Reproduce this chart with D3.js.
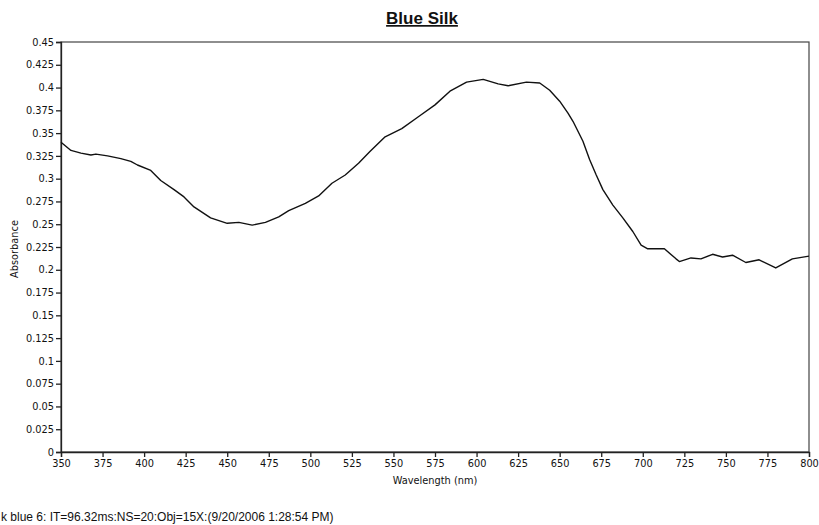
<!DOCTYPE html>
<html>
<head>
<meta charset="utf-8">
<script src="https://cdn.jsdelivr.net/npm/d3@7/dist/d3.min.js"></script>
<style>
  html, body { margin: 0; padding: 0; background: #fff; }
  svg { display: block; }
  .tick text { font-family: "DejaVu Sans", Verdana, sans-serif; font-size: 9.8px; fill: #111; }
</style>
</head>
<body>
<svg id="chart" width="819" height="525"></svg>
<script>
// Absorbance spectrum of the blue silk sample
const wavelength = [350, 356, 362, 368, 371, 378, 386, 392, 396, 404, 410, 418, 424, 430, 440, 450, 457, 465, 473, 481, 487, 497, 505, 513, 521, 529, 536, 545, 555, 565, 575, 584, 594, 604, 613, 619, 630, 638, 644, 650, 655, 658, 664, 668, 672, 676, 682, 688, 694, 699, 703, 713, 720, 722, 729, 735, 742, 748, 754, 762, 770, 780, 790, 800];
const absorbance = [0.340, 0.331, 0.328, 0.326, 0.327, 0.325, 0.322, 0.319, 0.315, 0.309, 0.298, 0.288, 0.280, 0.269, 0.257, 0.251, 0.252, 0.249, 0.252, 0.258, 0.265, 0.273, 0.281, 0.295, 0.304, 0.317, 0.330, 0.346, 0.355, 0.368, 0.381, 0.396, 0.406, 0.409, 0.404, 0.402, 0.406, 0.405, 0.397, 0.385, 0.372, 0.363, 0.341, 0.321, 0.304, 0.288, 0.271, 0.257, 0.242, 0.227, 0.223, 0.223, 0.212, 0.209, 0.213, 0.212, 0.217, 0.214, 0.216, 0.208, 0.211, 0.202, 0.212, 0.215];

const xTicks = [350, 375, 400, 425, 450, 475, 500, 525, 550, 575, 600, 625, 650, 675, 700, 725, 750, 775, 800];
const yTicks = [0, 0.025, 0.05, 0.075, 0.1, 0.125, 0.15, 0.175, 0.2, 0.225, 0.25, 0.275, 0.3, 0.325, 0.35, 0.375, 0.4, 0.425, 0.45];
const yTickLabels = ["0", "0.025", "0.05", "0.075", "0.1", "0.125", "0.15", "0.175", "0.2", "0.225", "0.25", "0.275", "0.3", "0.325", "0.35", "0.375", "0.4", "0.425", "0.45"];

const titleText = "Blue Silk";
const xLabel = "Wavelength (nm)";
const yLabel = "Absorbance";
const footerText = "k blue 6: IT=96.32ms:NS=20:Obj=15X:(9/20/2006 1:28:54 PM)";

const margin = { left: 61, right: 10, top: 42, bottom: 73 };
const W = 819, H = 525;
const svg = d3.select("#chart");

const x = d3.scaleLinear().domain([350, 800]).range([margin.left, W - margin.right]);
const y = d3.scaleLinear().domain([0, 0.45]).range([H - margin.bottom, margin.top]);

// plot frame
svg.append("rect")
  .attr("x", x(350)).attr("y", y(0.45))
  .attr("width", x(800) - x(350)).attr("height", y(0) - y(0.45))
  .attr("fill", "none").attr("stroke", "#444").attr("stroke-width", 1.2);

// axes
const xAxis = svg.append("g")
  .attr("transform", `translate(0,${y(0)})`)
  .call(d3.axisBottom(x).tickValues(xTicks).tickSize(5).tickPadding(3).tickFormat(d3.format("d")));
const yAxis = svg.append("g")
  .attr("transform", `translate(${x(350)},0)`)
  .call(d3.axisLeft(y).tickValues(yTicks).tickSize(5).tickPadding(2)
    .tickFormat((d, i) => yTickLabels[i]));
[xAxis, yAxis].forEach(g => {
  g.select(".domain").attr("stroke", "#222").attr("stroke-width", 1.3);
  g.selectAll(".tick line").attr("stroke", "#222").attr("stroke-width", 1.3);
});

// spectrum trace
const line = d3.line().x((d, i) => x(wavelength[i])).y(d => y(d));
svg.append("path")
  .datum(absorbance)
  .attr("d", line)
  .attr("fill", "none")
  .attr("stroke", "#111")
  .attr("stroke-width", 1.4)
  .attr("stroke-linejoin", "round");

// title with underline
svg.append("text")
  .attr("x", 422).attr("y", 24)
  .attr("text-anchor", "middle")
  .attr("font-family", "Liberation Sans, Arial, sans-serif")
  .attr("font-weight", "bold")
  .attr("font-size", 17)
  .attr("text-decoration", "underline")
  .attr("fill", "#111")
  .text(titleText);

// axis labels
svg.append("text")
  .attr("x", (x(350) + x(800)) / 2).attr("y", 484)
  .attr("text-anchor", "middle")
  .attr("font-family", "DejaVu Sans, Verdana, sans-serif")
  .attr("font-size", 9.8)
  .attr("fill", "#111")
  .text(xLabel);

svg.append("text")
  .attr("transform", `translate(18,${y(0.225) + 2}) rotate(-90)`)
  .attr("text-anchor", "middle")
  .attr("font-family", "DejaVu Sans, Verdana, sans-serif")
  .attr("font-size", 9.8)
  .attr("fill", "#111")
  .text(yLabel);

// acquisition note
svg.append("text")
  .attr("x", 1).attr("y", 521)
  .attr("font-family", "Liberation Sans, Arial, sans-serif")
  .attr("font-size", 12)
  .attr("fill", "#111")
  .text(footerText);
</script>
</body>
</html>
